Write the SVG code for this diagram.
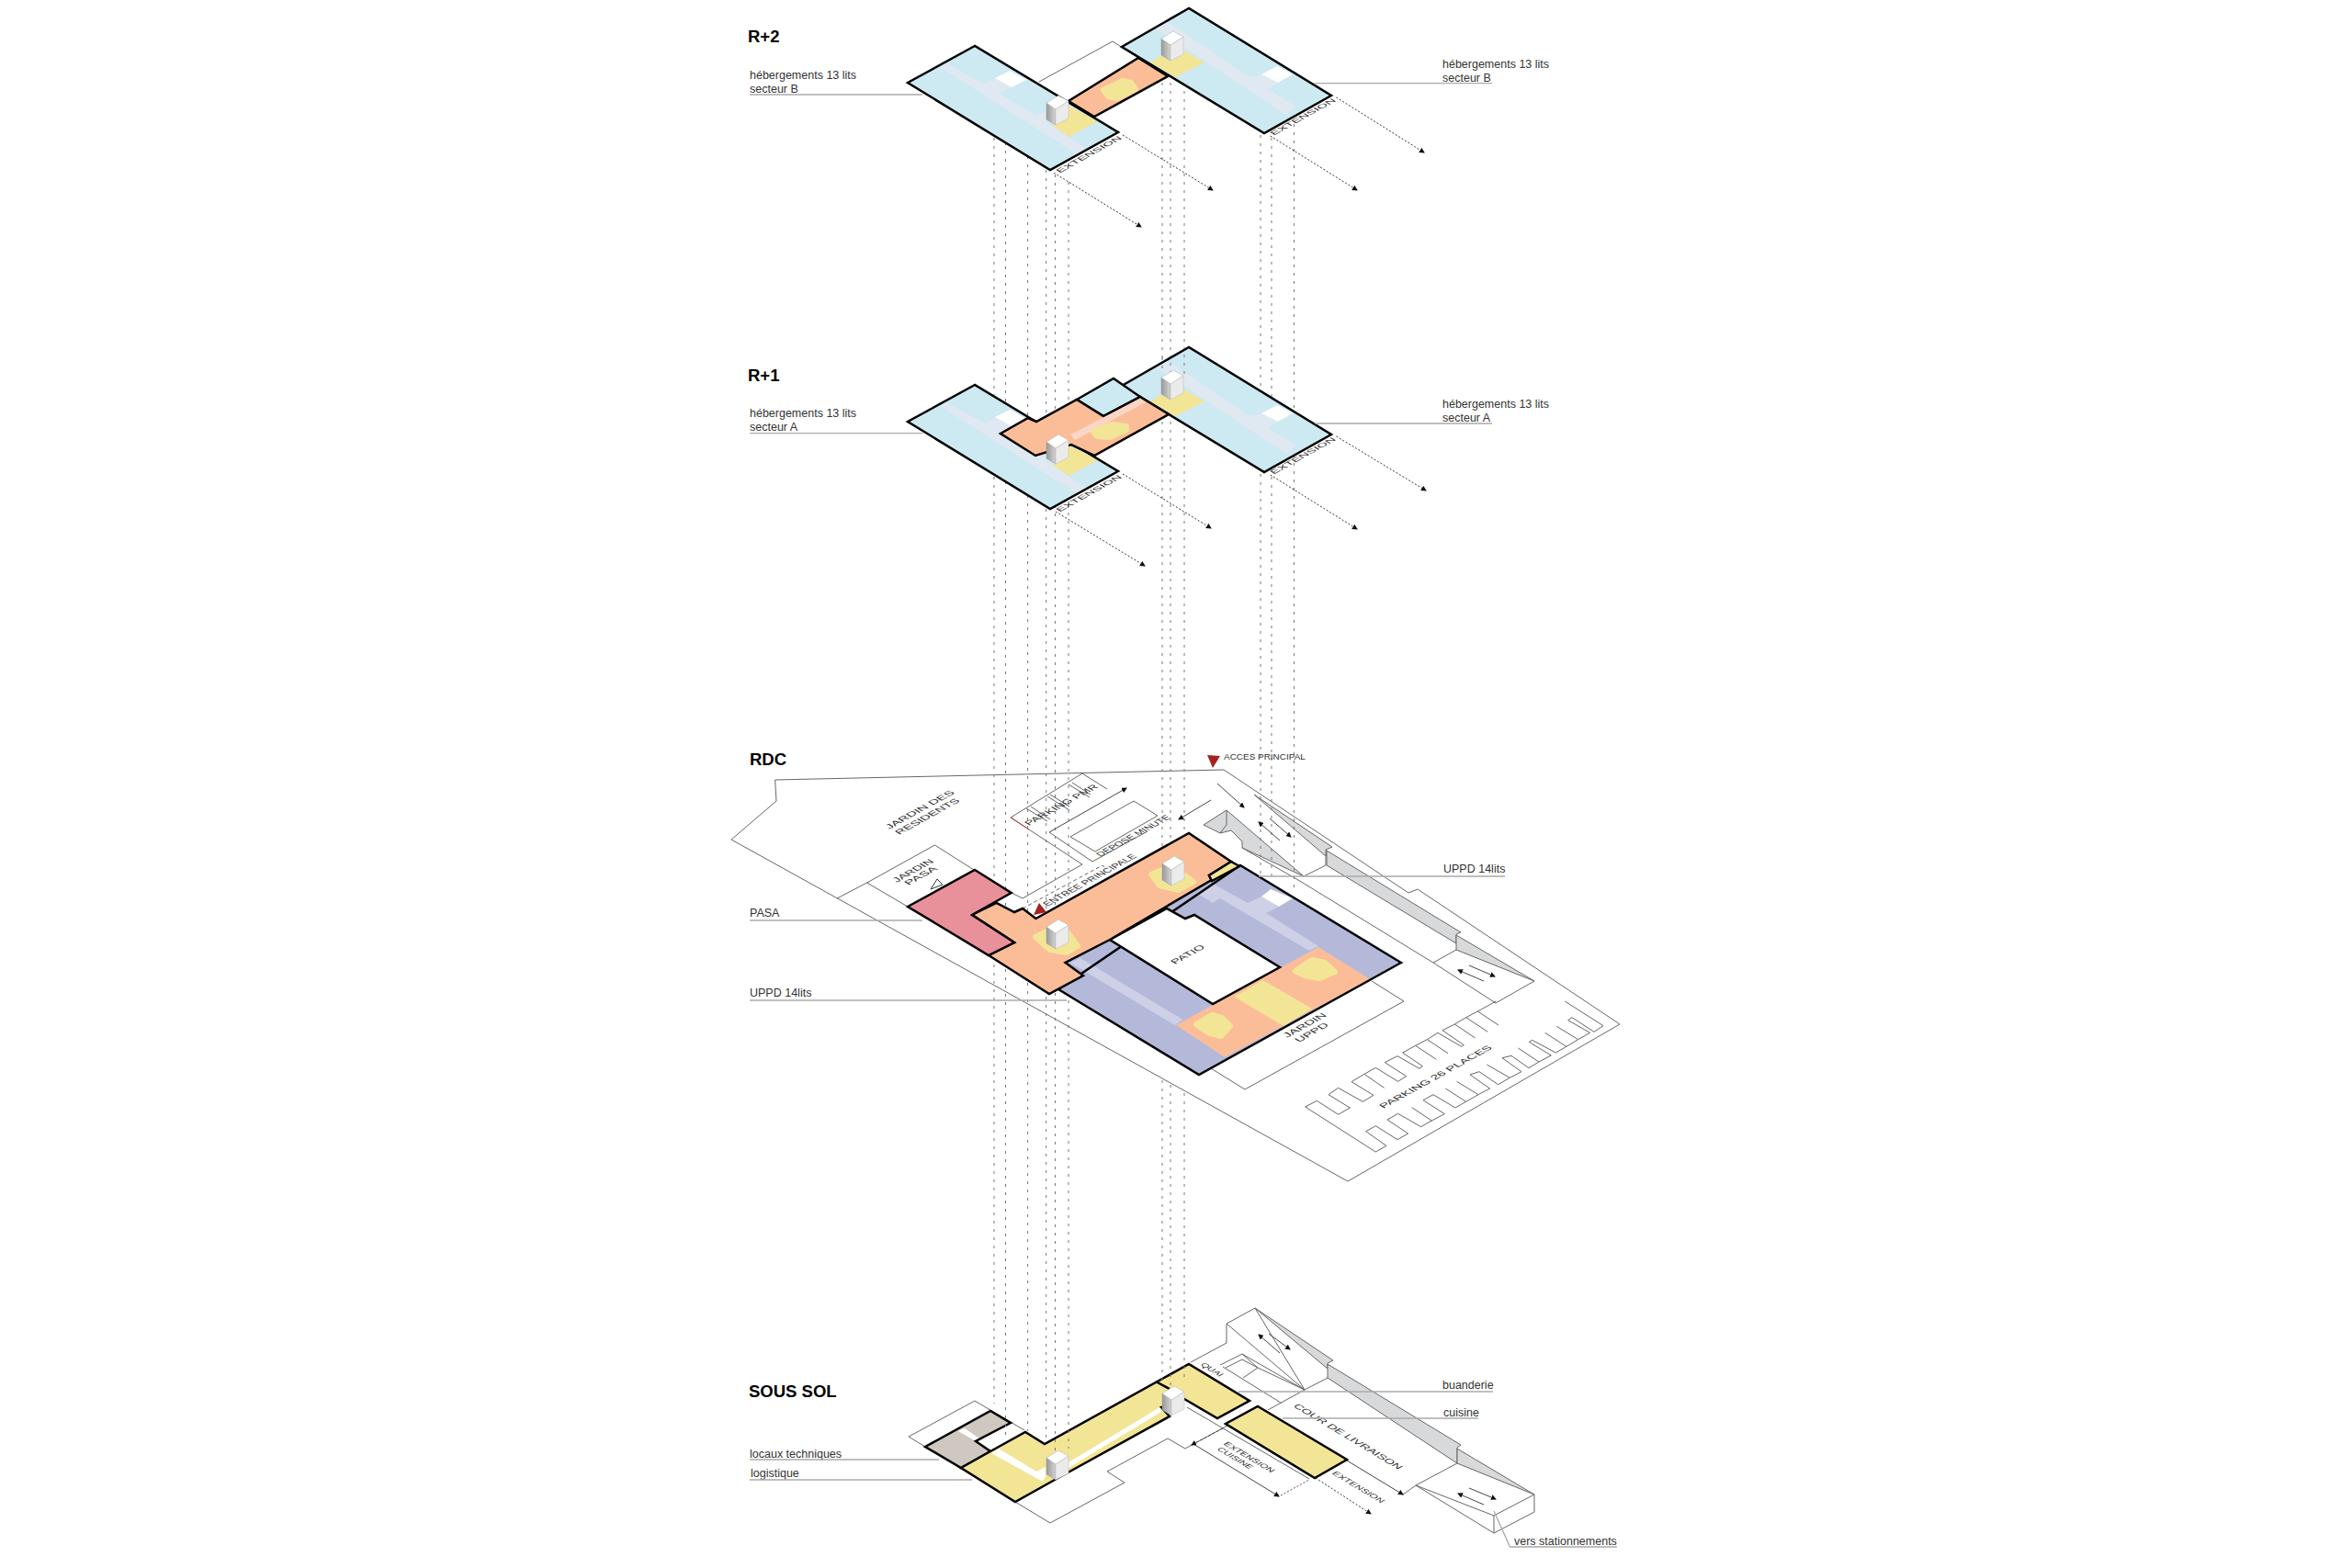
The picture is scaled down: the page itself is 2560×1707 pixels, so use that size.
<svg xmlns="http://www.w3.org/2000/svg" xmlns:xlink="http://www.w3.org/1999/xlink" width="2560" height="1707" viewBox="0 0 2560 1707">
<style>
text{font-family:"Liberation Sans",Arial,sans-serif;fill:#333}
.lbl{font-size:12.5px}
.ttl{font-size:18.5px;font-weight:bold;fill:#000}
.iso{font-size:10px;fill:#333}
.isx{font-size:8.5px;fill:#333}
polygon,polyline,line,path{vector-effect:non-scaling-stroke}
.thin{fill:none;stroke:#666;stroke-width:1}
.site{fill:#fff;stroke:#666;stroke-width:1}
.thick{stroke:#000;stroke-width:2.5;stroke-linejoin:miter}
.oth{fill:none;stroke:#000;stroke-width:2.5}
.lead{fill:none;stroke:#aaa;stroke-width:1.3}
.dash{stroke:#777;stroke-width:1;stroke-dasharray:3 6;fill:none}
.dot{stroke:#333;stroke-width:1;stroke-dasharray:2 2;fill:none;marker-end:url(#tri)}
.arr{stroke:#444;stroke-width:1;fill:none;marker-end:url(#tri)}
.blue{fill:#cde9f2}.cor{fill:#e0e9f2}.ora{fill:#fbbd98}.yel{fill:#f3e596}.pur{fill:#b4b9da}.lpu{fill:#cdd0e6}.pink{fill:#e8919b}.beige{fill:#cfc8c0}.wh{fill:#fff}
.ramp{fill:#d8d9da;stroke:#666;stroke-width:1}
.blob{stroke-width:6;stroke-linejoin:round}
.red{fill:#a6211e}
</style>
<defs>
<marker id="tri" markerWidth="6" markerHeight="6" refX="5" refY="3" orient="auto" markerUnits="userSpaceOnUse"><path d="M0,0L6,3L0,6Z" fill="#111"/></marker>
<linearGradient id="coreL" x1="0" x2="1" y1="0" y2="0"><stop offset="0" stop-color="#999"/><stop offset="1" stop-color="#d4d4d4"/></linearGradient>
<g id="core">
<polygon points="0,8 10,15 10,32 0,26" fill="url(#coreL)" stroke="#999" stroke-width=".5"/>
<polygon points="10,15 24,6 24,25 10,32" fill="#ebebeb" stroke="#bbb" stroke-width=".5"/>
<polygon points="13,0 24,6 10,15 0,8" fill="#fff" stroke="#aaa" stroke-width=".5"/>
</g>
<g id="wingL">
<polygon class="blue" points="1061,50 988,90 1143,185 1217,144"/>
<polygon class="cor" points="1030,69 1072,92 1083,85 1101,95 1088,102 1128,126 1138,121 1138,132 1182,162 1172,168 1023,73"/>
<polygon class="wh" points="1083,85 1099,77 1117,87 1101,95"/>
<polygon class="yel" points="1146,137 1163,149 1195,132 1163,115"/>
<polygon class="oth" points="1061,50 988,90 1143,185 1217,144"/>
</g>
<g id="wingR">
<polygon class="blue" points="1294,9 1221,51 1376,145 1449,104"/>
<polygon class="cor" points="1270,23 1360,84 1373,81 1391,90 1380,97 1411,116 1400,125 1258,31"/>
<polygon class="wh" points="1373,81 1390,72 1407,81 1391,90"/>
<polygon class="yel" points="1252,68 1279,84 1311,68 1280,50"/>
<polygon class="oth" points="1294,9 1221,51 1376,145 1449,104"/>
</g>
</defs>
<rect width="2560" height="1707" fill="#fff"/>

<g id="sous-sol">
<g class="thin">
<polyline points="1007,1575 989,1564 1061,1525 1115,1557"/>
<polyline points="1105,1635 1143,1658 1224,1614 1205,1602 1271,1566 1290,1577 1336,1552"/>
<polyline points="1292,1532 1425,1610"/>
<polyline points="1296,1483 1335,1462 1335,1441 1366,1424 1420,1513 1445,1500"/>
<polyline points="1335,1441 1420,1513 1380,1535"/>
<polyline points="1331,1488 1394,1527"/>
<polyline points="1328,1486 1352,1474 1369,1489 1353,1500"/>
<polyline points="1334,1489 1352,1480 1369,1489"/>
<polyline points="1352,1474 1420,1513"/>
<polyline points="1369,1489 1420,1513"/>
<polyline points="1527,1627 1541,1617 1586,1593"/>
<polyline points="1541,1617 1626,1669 1670,1646 1670,1627 1626,1650 1541,1617"/>
<polyline points="1626,1650 1626,1669"/>
</g>
<polygon class="ramp" points="1366,1424 1451,1481 1445,1484 1445,1490"/>
<polygon class="ramp" points="1445,1485 1590,1573 1586,1576 1586,1593 1445,1500"/>
<polygon class="ramp" points="1586,1577 1670,1627 1586,1593"/>
<polygon class="beige" points="1007,1575 1078,1536 1100,1549 1062,1569 1078,1580 1046,1598"/>
<polygon class="wh" points="1043,1558 1050,1555 1066,1566 1062,1569"/>
<polygon class="oth" points="1007,1575 1078,1536 1100,1549 1062,1569 1078,1580 1046,1598"/>
<polygon class="yel" points="1046,1598 1078,1580 1116,1559 1137,1572 1294,1485 1360,1525 1325,1544 1289,1523 1264,1532 1273,1542 1148,1611 1105,1635"/>
<polygon class="wh" points="1079,1582 1087,1577 1128,1602 1138,1597 1138,1607 1135,1613"/>
<polygon class="wh" points="1163,1592 1264,1531 1264,1537 1163,1598"/>
<polygon class="oth" points="1046,1598 1078,1580 1116,1559 1137,1572 1294,1485 1360,1525 1325,1544 1289,1523 1264,1532 1273,1542 1148,1611 1105,1635"/>
<line class="oth" x1="1258" y1="1504" x2="1273" y2="1512"/>
<polygon class="yel thick" points="1369,1531 1466,1589 1431,1609 1334,1550"/>
<use xlink:href="#core" href="#core" x="1139" y="1579"/>
<use xlink:href="#core" href="#core" x="1265" y="1509"/>
<text class="ttl" x="815" y="1520.7">SOUS SOL</text>
<text class="isx" transform="matrix(.857,.515,-.875,.485,1306,1486)" textLength="25" lengthAdjust="spacingAndGlyphs">QUAI</text>
<text class="iso" transform="matrix(.857,.515,-.875,.485,1407,1531)" textLength="134" lengthAdjust="spacingAndGlyphs">COUR DE LIVRAISON</text>
<text class="isx" transform="matrix(.857,.515,-.875,.485,1449,1604)" textLength="63" lengthAdjust="spacingAndGlyphs">EXTENSION</text>
<text class="isx" transform="matrix(.857,.515,-.875,.485,1331,1572)" textLength="61" lengthAdjust="spacingAndGlyphs">EXTENSION</text>
<text class="isx" transform="matrix(.857,.515,-.875,.485,1324,1578)" textLength="42" lengthAdjust="spacingAndGlyphs">CUISINE</text>
<text class="lbl" x="816" y="1587">locaux techniques</text>
<text class="lbl" x="817" y="1608">logistique</text>
<text class="lbl" x="1570" y="1512">buanderie</text>
<text class="lbl" x="1571" y="1542">cuisine</text>
<text class="lbl" x="1648" y="1682">vers stationnements</text>
</g>

<g id="rdc-site">
<polygon class="site" points="843.6,849 845,872 796,914 1467,1286 1763,1115 1543,968 1533,972 1332,838"/>
<g class="thin">
<polyline points="911,978 943.6,961 1017.5,920 1060,947"/>
<polyline points="943.6,961 988,987"/>
<polyline points="1352,923 1413,958 1560,1048 1628,1092 1670,1068"/>
<polyline points="1419,954 1443,942 1443,925"/>
<polyline points="1585,1034 1560,1048"/>
<polyline points="1493,1068 1528,1090 1355,1186 1318,1163"/>
<polyline points="1100,890 1178,842"/>
<polyline points="1178,842 1205,859"/>
<polyline points="1100,890 1178,941 1113,978 1101,972"/>
<polyline points="1142,906 1189,938 1249,905"/>
<polygon points="1165,911 1234,872 1260,888 1192,927"/>
<line x1="1117" y1="880" x2="1140" y2="894"/><line x1="1122" y1="878" x2="1143" y2="892"/>
<line x1="1140" y1="867" x2="1164" y2="882"/><line x1="1143" y1="865" x2="1164" y2="878"/>
<line x1="1163" y1="854" x2="1186" y2="868"/><line x1="1167" y1="852" x2="1187" y2="865"/>
</g>
<line x1="1100" y1="890" x2="1120" y2="903" stroke="#b33" stroke-width="1"/>
<polyline points="1113,989 1200,942 1202,944" fill="none" stroke="#666" stroke-width="1" stroke-dasharray="4 3"/>
<polygon class="ramp" points="1310,898 1335,882 1419,954 1352,923 1352,916 1340,904 1328,907"/>
<polyline class="thin" points="1335,882 1335,898 1328,907"/>
<polygon class="ramp" points="1365,865 1450,922 1443,925 1443,932"/>
<polygon class="ramp" points="1444,926 1590,1015 1585,1017 1585,1027 1444,942"/>
<polygon class="ramp" points="1585,1018 1670,1068 1585,1034"/>
<g transform="translate(1420,1090) scale(.33333)" class="thin">
<polyline points="2,345 232,492 267,472 200,425 232,407 303,452 338,432 270,387 305,367 380,410 415,390 457,368 387,323 420,305 492,348 527,328 567,305 605,285 540,240 570,230 632,272 670,250 708,230 645,185 675,178 732,218 765,198 805,177 733,133 743,127 820,168 855,148 893,125 932,103 860,62 873,53 945,100 975,80 850,0"/>
<polyline points="2,345 40,325 110,370 148,348 78,305 110,283 190,328 225,307 153,263 195,238 232,217 305,262 332,245 262,200 303,179 375,220 385,212 320,168 362,145 400,125 435,103 512,148 520,143 450,95 490,75 527,53 565,33 625,0"/>
<line x1="195" y1="238" x2="260" y2="283"/><line x1="362" y1="145" x2="430" y2="190"/><line x1="400" y1="125" x2="468" y2="170"/><line x1="490" y1="75" x2="557" y2="120"/><line x1="527" y1="53" x2="598" y2="100"/><line x1="565" y1="33" x2="633" y2="78"/>
<line x1="350" y1="347" x2="415" y2="390"/><line x1="460" y1="285" x2="527" y2="328"/><line x1="497" y1="262" x2="567" y2="305"/><line x1="595" y1="207" x2="670" y2="250"/><line x1="697" y1="153" x2="765" y2="198"/><line x1="785" y1="103" x2="855" y2="148"/><line x1="823" y1="82" x2="893" y2="125"/>
</g>
</g>

<g id="connectors-verticals">
<line class="dash" x1="1082" y1="150" x2="1082" y2="1528"/>
<line class="dash" x1="1094.5" y1="155" x2="1094.5" y2="1567"/>
<line class="dash" x1="1118.6" y1="170" x2="1118.6" y2="1558"/>
<line class="dash" x1="1138.7" y1="185" x2="1138.7" y2="1570"/>
<line class="dash" x1="1148.5" y1="190" x2="1148.5" y2="1580"/>
<line class="dash" x1="1163" y1="198" x2="1163" y2="1577"/>
<line class="dash" x1="1265" y1="90" x2="1265" y2="1000"/>
<line class="dash" x1="1274" y1="90" x2="1274" y2="1000"/>
<line class="dash" x1="1289" y1="90" x2="1289" y2="1000"/>
<line class="dash" x1="1265" y1="1176" x2="1265" y2="1503"/>
<line class="dash" x1="1274" y1="1181" x2="1274" y2="1510"/>
<line class="dash" x1="1289" y1="1190" x2="1289" y2="1505"/>
<line class="dash" x1="1372" y1="147" x2="1372" y2="953"/>
<line class="dash" x1="1384" y1="150" x2="1384" y2="957"/>
<line class="dash" x1="1408.5" y1="135" x2="1408.5" y2="968"/>
</g>

<g id="rdc">
<polygon class="pur" points="1350,942 1525,1048 1305,1170 1152,1077 1179,1062 1159,1048 1208,1023 1319,958"/>
<polygon class="lpu" points="1320,962 1358,983 1373,976 1392,987 1378,994 1435,1030 1425,1035 1328,978 1320,983 1302,972"/>
<polygon class="wh" points="1373,976 1383,968 1407,978 1392,987"/>
<polygon class="lpu" points="1176,1043 1287.5,1110 1278.6,1116 1165,1048"/>
<polygon class="ora" points="1280,1116 1333,1151 1491,1066 1435,1031"/>
<polygon class="yel" points="1343,1085 1374.5,1067 1428,1098 1397,1117"/>
<polygon class="yel blob" stroke="#f3e596" points="1302,1115 1319,1105 1330,1108 1339,1117 1329,1128 1315,1124"/>
<polygon class="yel blob" stroke="#f3e596" points="1410,1057 1428,1045 1442,1048 1453,1058 1436,1065 1420,1062"/>
<polygon class="oth" points="1350,942 1525,1048 1305,1170 1152,1077"/>
<polygon class="wh thick" points="1208,1023 1270,989 1290,1000 1300,996 1393,1053 1320,1093"/>
<polygon class="ora thick" points="1127.5,1000 1294,907 1340,938 1316,953 1318.6,958 1208,1023 1159.6,1048 1179,1062 1142,1082 1076,1040 1104,1026 1058,996 1084.6,983 1104,993 1113,989"/>
<polygon class="pink thick" points="1061,947 1100.7,972 1058,996 1104,1026 1076,1040 988,987"/>
<polygon class="yel thick" points="1340,938 1349,943 1319,959 1316,953"/>
<polygon class="yel blob" stroke="#f3e596" points="1127,1020 1147,1010 1163,1016 1173,1030 1161,1037 1143,1034"/>
<polygon class="yel blob" stroke="#f3e596" points="1253,952 1269,945 1290,953 1299,960 1283,969 1262,964"/>
<use xlink:href="#core" href="#core" x="1139" y="1001"/>
<use xlink:href="#core" href="#core" x="1265" y="932"/>
<polygon class="red" points="1125,996 1131,983 1139,993"/>
<polygon class="red" points="1314,822 1328,823 1320,836"/>
<polygon points="1013,968 1020,957 1026,963" fill="#fff" stroke="#333" stroke-width="1"/>
<line class="arr" x1="1142" y1="906" x2="1226" y2="858"/>
<line class="arr" x1="1318" y1="871" x2="1283" y2="892"/>
<line class="arr" x1="1325" y1="853" x2="1354" y2="879"/>
<line class="arr" x1="1393" y1="915" x2="1370" y2="895"/>
<line class="arr" x1="1382" y1="891" x2="1405" y2="911"/>
<line class="arr" x1="1615" y1="1068" x2="1587" y2="1056"/>
<line class="arr" x1="1599" y1="1051" x2="1627" y2="1063"/>
<text class="ttl" x="816" y="833">RDC</text>
<text class="lbl" x="816" y="998">PASA</text>
<text class="lbl" x="816" y="1085">UPPD 14lits</text>
<text class="lbl" x="1571" y="950">UPPD 14lits</text>
<text transform="translate(1332,827) scale(1.2,1)" font-size="8.3">ACCES PRINCIPAL</text>
<text class="iso" transform="matrix(.875,-.485,.857,.515,968,903)" textLength="82" lengthAdjust="spacingAndGlyphs">JARDIN DES</text>
<text class="iso" transform="matrix(.875,-.485,.857,.515,979,909)" textLength="76" lengthAdjust="spacingAndGlyphs">RESIDENTS</text>
<text class="iso" transform="matrix(.875,-.485,.857,.515,976,961)" textLength="47" lengthAdjust="spacingAndGlyphs">JARDIN</text>
<text class="iso" transform="matrix(.875,-.485,.857,.515,989,964)" textLength="37" lengthAdjust="spacingAndGlyphs">PASA</text>
<text class="iso" transform="matrix(.875,-.485,.857,.515,1120,899)" textLength="87" lengthAdjust="spacingAndGlyphs">PARKING PMR</text>
<text class="iso" transform="matrix(.875,-.485,.857,.515,1198,933)" textLength="88" lengthAdjust="spacingAndGlyphs">DEPOSE MINUTE</text>
<text class="iso" transform="matrix(.875,-.485,.857,.515,1140,987)" textLength="112" lengthAdjust="spacingAndGlyphs">ENTREE PRINCIPALE</text>
<text class="iso" transform="matrix(.875,-.485,.857,.515,1279,1050)" textLength="38" lengthAdjust="spacingAndGlyphs">PATIO</text>
<text class="iso" transform="matrix(.875,-.485,.857,.515,1401,1130)" textLength="50" lengthAdjust="spacingAndGlyphs">JARDIN</text>
<text class="iso" transform="matrix(.875,-.485,.857,.515,1414,1135)" textLength="38" lengthAdjust="spacingAndGlyphs">UPPD</text>
<text class="iso" transform="matrix(.875,-.485,.857,.515,1506,1207)" textLength="136" lengthAdjust="spacingAndGlyphs">PARKING 26 PLACES</text>
</g>

<g id="r1">
<use xlink:href="#wingR" href="#wingR" y="369"/>
<use xlink:href="#wingL" href="#wingL" y="369"/>
<polygon class="blue thick" points="1172,435 1212,412 1241,432 1201,453"/>
<polygon class="ora thick" points="1089,472 1119,455 1128,459 1172,435 1201,453 1241,432 1272,451 1191,496 1166,484 1127,496"/>
<polygon points="1165,473 1241,434 1247,438 1170,479" fill="#fbd6c6"/>
<polygon class="yel blob" stroke="#f3e596" points="1190,470 1210,462 1226,464 1226,468 1208,476 1194,475"/>
<use xlink:href="#core" href="#core" x="1139" y="473"/>
<use xlink:href="#core" href="#core" x="1264" y="403"/>
<line class="dash" x1="1265" y1="389" x2="1265" y2="404"/>
<line class="dash" x1="1274" y1="395" x2="1274" y2="405"/>
<line class="dash" x1="1289" y1="386" x2="1289" y2="408"/>
<text class="ttl" x="814" y="415">R+1</text>
<text class="lbl" x="816" y="454">hébergements 13 lits</text>
<text class="lbl" x="816" y="469">secteur A</text>
<text class="lbl" x="1570" y="444">hébergements 13 lits</text>
<text class="lbl" x="1570" y="459">secteur A</text>
<text class="isx" transform="matrix(.875,-.485,.857,.515,1153.5,557.5)" textLength="78" lengthAdjust="spacingAndGlyphs">EXTENSION</text>
<text class="isx" transform="matrix(.875,-.485,.857,.515,1386.5,516.5)" textLength="78" lengthAdjust="spacingAndGlyphs">EXTENSION</text>
</g>

<g id="r2">
<polyline class="thin" points="1131,89 1211,45 1239,63"/>
<use xlink:href="#wingL" href="#wingL"/>
<polygon class="ora thick" points="1239,63 1271,83 1191,127 1163,110"/>
<polygon class="yel blob" stroke="#f3e596" points="1201,98 1222,88 1231,90 1236,97 1216,107 1206,105"/>
<use xlink:href="#wingR" href="#wingR"/>
<use xlink:href="#core" href="#core" x="1139" y="104"/>
<use xlink:href="#core" href="#core" x="1264" y="34"/>
<text class="ttl" x="814" y="45.7">R+2</text>
<text class="lbl" x="816" y="86">hébergements 13 lits</text>
<text class="lbl" x="816" y="101">secteur B</text>
<text class="lbl" x="1570" y="74">hébergements 13 lits</text>
<text class="lbl" x="1570" y="89">secteur B</text>
<text class="isx" transform="matrix(.875,-.485,.857,.515,1153.5,188.5)" textLength="78" lengthAdjust="spacingAndGlyphs">EXTENSION</text>
<text class="isx" transform="matrix(.875,-.485,.857,.515,1386.5,147.5)" textLength="78" lengthAdjust="spacingAndGlyphs">EXTENSION</text>
</g>

<g id="connectors">
<line class="dot" x1="1222" y1="147" x2="1320" y2="207"/>
<line class="dot" x1="1147" y1="188" x2="1242" y2="247"/>
<line class="dot" x1="1454.5" y1="106" x2="1550" y2="166"/>
<line class="dot" x1="1382.7" y1="148" x2="1477" y2="207"/>
<line class="dot" x1="1222" y1="516" x2="1318" y2="575"/>
<line class="dot" x1="1149" y1="557" x2="1246" y2="616"/>
<line class="dot" x1="1454.5" y1="475" x2="1552" y2="534"/>
<line class="dot" x1="1382.7" y1="517" x2="1477" y2="576"/>
<line class="dot" x1="1432" y1="1609" x2="1492" y2="1648"/>
<line class="arr" x1="1466" y1="1590" x2="1527" y2="1627"/>
<line class="arr" x1="1299" y1="1572" x2="1392" y2="1629"/>
<line class="arr" x1="1331" y1="1555" x2="1297" y2="1573" stroke-dasharray="3 2"/>
<line x1="1394" y1="1628" x2="1425" y2="1611" stroke="#555" stroke-width="1" stroke-dasharray="2 2"/>
<line class="arr" x1="1381" y1="1452" x2="1404" y2="1469"/>
<line class="arr" x1="1393" y1="1473" x2="1370" y2="1453"/>
<line class="arr" x1="1599" y1="1620" x2="1628" y2="1632"/>
<line class="arr" x1="1615" y1="1638" x2="1587" y2="1626"/>
<g class="lead">
<line x1="816" y1="103" x2="1004" y2="103"/>
<line x1="1431" y1="90.7" x2="1624" y2="90.7"/>
<line x1="816" y1="471.7" x2="1004" y2="471.7"/>
<line x1="1431" y1="461" x2="1624" y2="461"/>
<line x1="816" y1="1002" x2="1004" y2="1002"/>
<line x1="816" y1="1089" x2="1161" y2="1089"/>
<line x1="1370" y1="954" x2="1638" y2="954"/>
<line x1="816" y1="1589" x2="1022" y2="1589"/>
<line x1="816" y1="1611" x2="1058" y2="1611"/>
<line x1="1348" y1="1515" x2="1625" y2="1515"/>
<line x1="1396" y1="1544" x2="1609" y2="1544"/>
<polyline points="1626,1645 1643.5,1684 1760,1684"/>
</g>
</g>
</svg>
